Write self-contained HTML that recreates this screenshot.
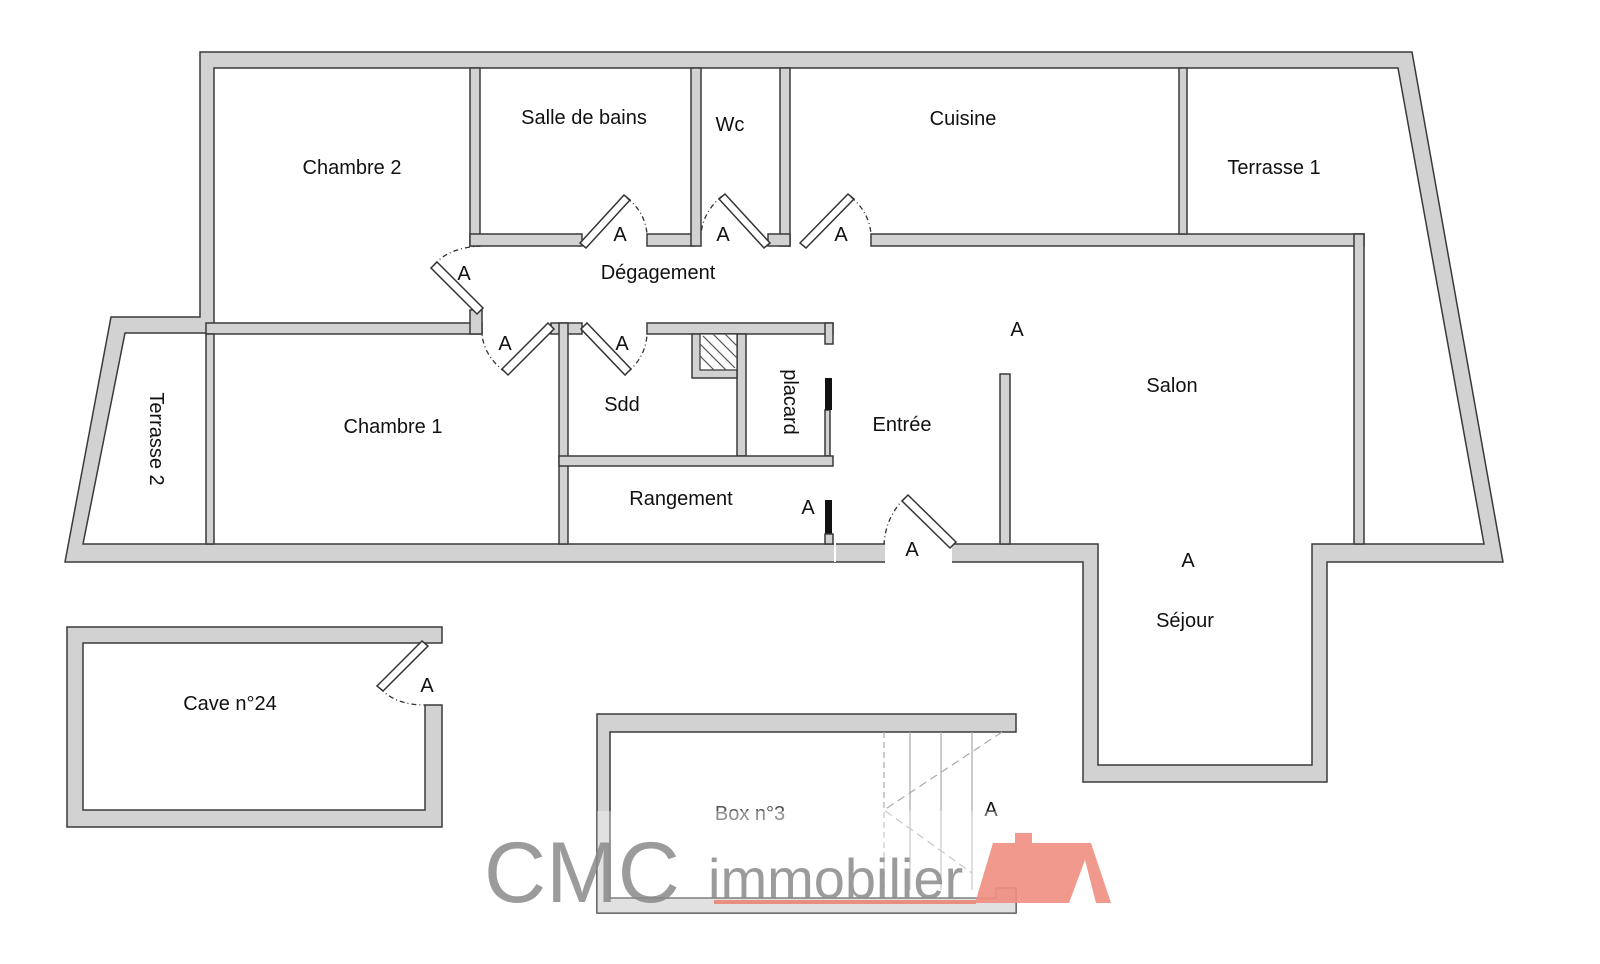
<!DOCTYPE html>
<html><head><meta charset="utf-8"><style>
html,body{margin:0;padding:0;background:#fff;}
svg{display:block;}
text{font-family:"Liberation Sans",sans-serif;font-size:20px;fill:#111;}
.w{fill:#d2d2d2;stroke:#3a3a3a;stroke-width:1.5;}
.g{fill:#fff;stroke:none;}
.leaf{fill:#fff;stroke:#333;stroke-width:1.5;}
.arc{fill:none;stroke:#333;stroke-width:1.3;stroke-dasharray:5 3 1 3;}
</style></head><body>
<svg width="1600" height="964" viewBox="0 0 1600 964" xmlns="http://www.w3.org/2000/svg">
<polygon class="w" points="200,52 1412,52 1503,562 1327,562 1327,782 1083,782 1083,562 65,562 111,317 200,317"/>
<polygon points="214,68 1398,68 1484,544 1312,544 1312,765 1098,765 1098,544 83,544 125,333 214,333" fill="#fff" stroke="#3a3a3a" stroke-width="1.5"/>
<rect class="w" x="206" y="323" width="276" height="11"/>
<rect class="w" x="206" y="334" width="8" height="210"/>
<rect class="w" x="470" y="310" width="12" height="24"/>
<rect class="w" x="470" y="68" width="10" height="178"/>
<rect class="w" x="470" y="234" width="112" height="12"/>
<rect class="w" x="647" y="234" width="47" height="12"/>
<rect class="w" x="691" y="68" width="10" height="178"/>
<rect class="w" x="780" y="68" width="10" height="178"/>
<rect class="w" x="768" y="234" width="22" height="12"/>
<rect class="w" x="871" y="234" width="493" height="12"/>
<rect class="w" x="1179" y="68" width="8" height="166"/>
<rect class="w" x="1354" y="234" width="10" height="310"/>
<rect class="w" x="551" y="323" width="31" height="11"/>
<rect class="w" x="647" y="323" width="186" height="11"/>
<rect class="w" x="559" y="323" width="9" height="221"/>
<rect class="w" x="737" y="334" width="9" height="122"/>
<rect class="w" x="692" y="334" width="45" height="44"/>
<rect x="700" y="334" width="37" height="36" fill="#fff" stroke="#333" stroke-width="1.2"/>
<g stroke="#555" stroke-width="1.2"><line x1="703" y1="336" x2="735" y2="368"/><line x1="713" y1="334" x2="737" y2="358"/><line x1="700" y1="344" x2="726" y2="370"/><line x1="725" y1="334" x2="737" y2="346"/><line x1="700" y1="356" x2="714" y2="370"/></g>
<rect class="w" x="825" y="323" width="8" height="21"/>
<rect class="w" x="825" y="410" width="5" height="46"/>
<rect x="825" y="378" width="7" height="32" fill="#111"/>
<rect class="w" x="559" y="456" width="274" height="10"/>
<rect x="825" y="500" width="7" height="34" fill="#111"/>
<rect class="w" x="825" y="534" width="8" height="10"/>
<rect class="w" x="1000" y="374" width="10" height="170"/>
<rect class="g" x="583" y="233" width="63" height="14"/>
<rect class="g" x="702" y="233" width="65" height="14"/>
<rect class="g" x="791" y="233" width="79" height="14"/>
<rect class="g" x="469" y="247" width="14" height="62"/>
<rect class="g" x="483" y="322" width="67" height="13"/>
<rect class="g" x="583" y="322" width="63" height="13"/>
<rect class="g" x="885" y="543" width="67" height="20"/>
<rect class="g" x="834" y="322" width="2" height="240"/>
<g>
<polygon class="leaf" points="580,243 624,195 630,200 586,248"/>
<path class="arc" d="M627,198 Q645,212 647,234"/>
<polygon class="leaf" points="770,243 725,194 719,199 764,248"/>
<path class="arc" d="M722,196 Q703,212 701,234"/>
<polygon class="leaf" points="800,243 848,194 854,199 806,248"/>
<path class="arc" d="M851,197 Q869,212 871,234"/>
<polygon class="leaf" points="483,308 437,262 431,268 477,314"/>
<path class="arc" d="M434,265 Q448,248 480,246"/>
<polygon class="leaf" points="548,323 502,369 508,375 554,329"/>
<path class="arc" d="M505,372 Q484,356 482,334"/>
<polygon class="leaf" points="587,323 631,369 625,375 581,329"/>
<path class="arc" d="M628,372 Q646,356 647,334"/>
<polygon class="leaf" points="956,542 908,495 902,501 950,548"/>
<path class="arc" d="M905,498 Q886,516 884,544"/>
</g>
<text x="352" y="174" text-anchor="middle">Chambre 2</text>
<text x="584" y="124" text-anchor="middle">Salle de bains</text>
<text x="730" y="131" text-anchor="middle">Wc</text>
<text x="963" y="125" text-anchor="middle">Cuisine</text>
<text x="1274" y="174" text-anchor="middle">Terrasse 1</text>
<text x="658" y="279" text-anchor="middle">Dégagement</text>
<text x="393" y="433" text-anchor="middle">Chambre 1</text>
<text transform="translate(150,439) rotate(90)" text-anchor="middle">Terrasse 2</text>
<text x="622" y="411" text-anchor="middle">Sdd</text>
<text transform="translate(784,402) rotate(90)" text-anchor="middle">placard</text>
<text x="681" y="505" text-anchor="middle">Rangement</text>
<text x="902" y="431" text-anchor="middle">Entrée</text>
<text x="1172" y="392" text-anchor="middle">Salon</text>
<text x="1185" y="627" text-anchor="middle">Séjour</text>
<g text-anchor="middle">
<text x="620" y="241">A</text><text x="723" y="241">A</text><text x="841" y="241">A</text>
<text x="464" y="280">A</text><text x="505" y="350">A</text><text x="622" y="350">A</text>
<text x="1017" y="336">A</text><text x="808" y="514">A</text><text x="912" y="556">A</text>
<text x="1188" y="567">A</text><text x="427" y="692">A</text><text x="991" y="816">A</text>
</g>
<polygon class="w" points="67,627 442,627 442,643 83,643 83,810 425,810 425,705 442,705 442,827 67,827"/>
<polygon class="leaf" points="422,641 377,686 383,691 428,646"/>
<path class="arc" d="M380,688 Q395,705 425,705"/>
<text x="230" y="710" text-anchor="middle">Cave n°24</text>
<polygon class="w" points="597,714 1016,714 1016,732 610,732 610,898 996,898 996,888 1016,888 1016,913 597,913"/>
<g stroke="#aaa" stroke-width="1.2" fill="none">
<line x1="884" y1="732" x2="884" y2="890" stroke-dasharray="6 4"/>
<line x1="910" y1="732" x2="910" y2="890"/>
<line x1="941" y1="732" x2="941" y2="890"/>
<line x1="972" y1="732" x2="972" y2="890"/>
<polyline points="1002,732 884,810 972,873" stroke-dasharray="8 5"/>
</g>
<text x="750" y="820" text-anchor="middle" style="fill:#555">Box n°3</text>
<rect x="597" y="811" width="419" height="102" fill="#fff" opacity="0.35"/>
<text x="484" y="902" style="font-size:86px;fill:#8a8a8a;opacity:.85">CMC</text>
<text x="708" y="898" style="font-size:56px;fill:#8a8a8a;opacity:.85">immobilier</text>
<rect x="714" y="900" width="262" height="4" fill="#e9806f" opacity=".85"/>
<polygon points="975,903 993,843 1015,843 1015,833 1032,833 1032,843 1091,843 1111,903 1096,903 1085,860 1069,903" fill="#ef8e80" opacity=".9"/>
</svg>
</body></html>
